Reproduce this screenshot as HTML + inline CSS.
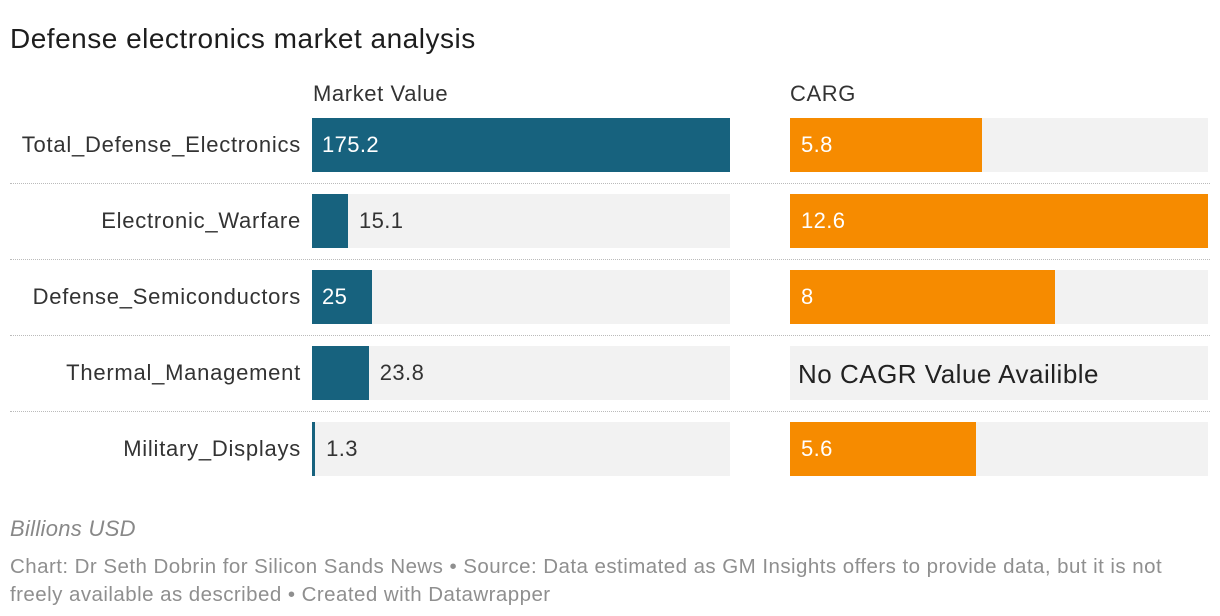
<!DOCTYPE html>
<html><head><meta charset="utf-8"><style>
body{margin:0;width:1220px;height:616px;background:#fff;font-family:"Liberation Sans",Arial,sans-serif;position:relative;overflow:hidden}
.abs{position:absolute}
#title{left:10px;top:23px;font-size:28px;letter-spacing:0.5px;color:#1d1d1d}
.hdr{top:81px;font-size:22px;letter-spacing:0.6px;color:#333}
.lbl{right:919px;font-size:22px;letter-spacing:0.75px;color:#333;text-align:right;white-space:nowrap}
.bg{background:#f2f2f2;height:54px}
.bar{height:54px}
.val{font-size:22px;letter-spacing:0.4px;line-height:54px;white-space:nowrap}
.sep{left:10px;width:1200px;border-top:1px dotted #bbb;height:0}
#unit{left:10px;top:516px;font-size:22px;letter-spacing:0.3px;font-style:italic;color:#888}
#src{left:10px;top:553px;width:1195px;font-size:20.5px;letter-spacing:0.45px;line-height:28px;color:#8f8f8f}
</style></head><body>
<div id="title" class="abs">Defense electronics market analysis</div>
<div class="abs hdr" style="left:313px">Market Value</div>
<div class="abs hdr" style="left:790px">CARG</div>
<div id="chart"></div>
<div id="unit" class="abs">Billions USD</div>
<div id="src" class="abs">Chart: Dr Seth Dobrin for Silicon Sands News • Source: Data estimated as GM Insights offers to provide data, but it is not freely available as described • Created with Datawrapper</div>
<script>
const categories=["Total_Defense_Electronics","Electronic_Warfare","Defense_Semiconductors","Thermal_Management","Military_Displays"];
const marketValues=[175.2,15.1,25,23.8,1.3];
const cagrValues=[5.8,12.6,8,null,5.6];
const chart=document.getElementById('chart');
const W=418,top0=118,step=76,mx=312,cx=790;
const mMax=Math.max(...marketValues),cMax=Math.max(...cagrValues.filter(v=>v!=null));
function xm(v){return v/mMax*W}
function xc(v){return v/cMax*W}
function mk(cls,style,name){const d=document.createElement('div');d.className='abs '+cls;d.style.cssText=style;


chart.appendChild(d);return d}
categories.forEach((c,i)=>{
 const y=top0+i*step;
 const l=mk('lbl','top:'+(y+14)+'px','row-label');l.textContent=c;
 if(i>0){mk('sep','top:'+(y-11)+'px','row-separator');}
 mk('bg','left:'+mx+'px;top:'+y+'px;width:'+W+'px','market-bar-background');
 const mw=xm(marketValues[i]);
 mk('bar','left:'+mx+'px;top:'+y+'px;width:'+mw+'px;background:#17627e','market-bar');
 const inside=mw>58;
 const mv=mk('val','top:'+y+'px;left:'+(inside?mx+10:mx+mw+11)+'px;color:'+(inside?'#fff':'#333'),'market-value-label');mv.textContent=marketValues[i];
 mk('bg','left:'+cx+'px;top:'+y+'px;width:'+W+'px','cagr-bar-background');
 if(cagrValues[i]==null){
  const t=mk('val','top:'+(y+1)+'px;left:'+(cx+8)+'px;color:#222;font-size:26px;letter-spacing:0.5px','cagr-missing-note');t.textContent='No CAGR Value Availible';
 }else{
  const cw=xc(cagrValues[i]);
  mk('bar','left:'+cx+'px;top:'+y+'px;width:'+cw+'px;background:#f68b00','cagr-bar');
  const cv=mk('val','top:'+y+'px;left:'+(cx+11)+'px;color:#fff','cagr-value-label');cv.textContent=cagrValues[i];
 }
});
</script>
</body></html>
